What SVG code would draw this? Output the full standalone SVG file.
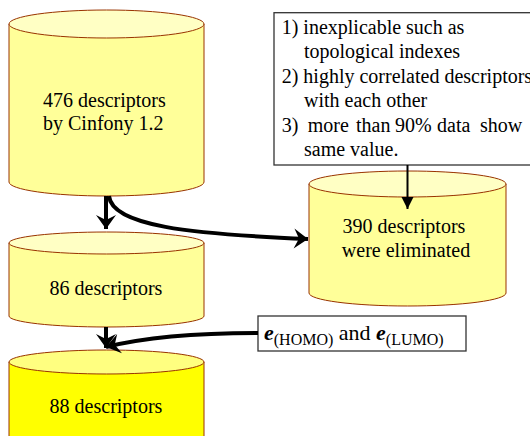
<svg xmlns="http://www.w3.org/2000/svg" width="530" height="436" viewBox="0 0 530 436" font-family="'Liberation Serif', 'Times New Roman', Times, serif">
<style>
text{fill:#000}
.t20{font-size:20px}
.body{fill:#FFFF99;stroke:#993300;stroke-width:1}
.top{fill:#FFFFC4;stroke:#993300;stroke-width:1}
.body2{fill:#FFFF00;stroke:#993300;stroke-width:1}
.top2{fill:#FFFF80;stroke:#993300;stroke-width:1}
.box{fill:#fff;stroke:#333;stroke-width:1.3}
.thick{fill:none;stroke:#000;stroke-width:4}
.thin{fill:none;stroke:#000;stroke-width:2}
</style>
<defs>
<marker id="stealth" markerUnits="userSpaceOnUse" markerWidth="20" markerHeight="24" viewBox="-16 -12 20 24" refX="0" refY="0" orient="auto">
<path d="M0,0 L-14,-10 L-9,0 L-14,10 Z" fill="#000"/>
</marker>
<marker id="tri" markerUnits="userSpaceOnUse" markerWidth="16" markerHeight="16" viewBox="-14 -8 16 16" refX="0" refY="0" orient="auto">
<path d="M0,0 L-12,-6 L-12,6 Z" fill="#000"/>
</marker>
</defs>

<g id="node-476">
<path class="body" d="M9,24 V182 A97.5,14 0 0 0 204,182 V24 Z"/>
<ellipse class="top" cx="106.5" cy="24" rx="97.5" ry="14"/>
<text class="t20" x="43" y="107">476 descriptors</text>
<text class="t20" x="43" y="130">by Cinfony 1.2</text>
</g>

<g id="node-86">
<path class="body" d="M9,243 V316 A97.5,11 0 0 0 204,316 V243 Z"/>
<ellipse class="top" cx="106.5" cy="243" rx="97.5" ry="11"/>
<text class="t20" x="106" y="295" text-anchor="middle">86 descriptors</text>
</g>

<g id="node-88">
<path class="body2" d="M9,362 V446 A97.5,12 0 0 0 204,446 V362 Z"/>
<ellipse class="top2" cx="106.5" cy="362" rx="97.5" ry="12"/>
<text class="t20" x="106" y="413" text-anchor="middle">88 descriptors</text>
</g>

<g id="node-390">
<path class="body" d="M309,184 V293 A98.5,13 0 0 0 506,293 V184 Z"/>
<ellipse class="top" cx="407.5" cy="184" rx="98.5" ry="13"/>
<text class="t20" x="404" y="233" text-anchor="middle">390 descriptors</text>
<text class="t20" x="406" y="257" text-anchor="middle">were eliminated</text>
</g>

<g id="node-criteria">
<rect class="box" x="274" y="12.7" width="280" height="152.3"/>
<text class="t20" x="281.7" y="34">1) inexplicable such as</text>
<text class="t20" x="304" y="58">topological indexes</text>
<text class="t20" x="281.7" y="83">2) highly correlated descriptors</text>
<text class="t20" x="304" y="107">with each other</text>
<text class="t20" y="131.5"><tspan x="281.7">3)</tspan><tspan x="307.7">more</tspan><tspan x="356">than</tspan><tspan x="395">90%</tspan><tspan x="437">data</tspan><tspan x="480">show</tspan></text>
<text class="t20" x="304" y="155.5">same value.</text>
</g>

<g id="node-homo-lumo">
<rect class="box" x="258" y="316" width="208" height="35"/>
<text style="font-size:22px" x="264" y="340"><tspan font-weight="bold" font-style="italic">e</tspan><tspan font-size="16" dy="5">(HOMO)</tspan><tspan dy="-5"> and </tspan><tspan font-weight="bold" font-style="italic">e</tspan><tspan font-size="16" dy="5">(LUMO)</tspan></text>
</g>

<g id="connectors">
<path class="thick" d="M106,196 V229" marker-end="url(#stealth)"/>
<path class="thick" d="M109,196 C112,226 190,234 308,239" marker-end="url(#stealth)"/>
<path class="thin" d="M407.5,165 V209" marker-end="url(#tri)"/>
<path class="thick" d="M106,327 V348" marker-end="url(#stealth)"/>
<path class="thick" d="M258,333 C200,333 150,336 106,347" marker-end="url(#stealth)"/>
</g>
</svg>
